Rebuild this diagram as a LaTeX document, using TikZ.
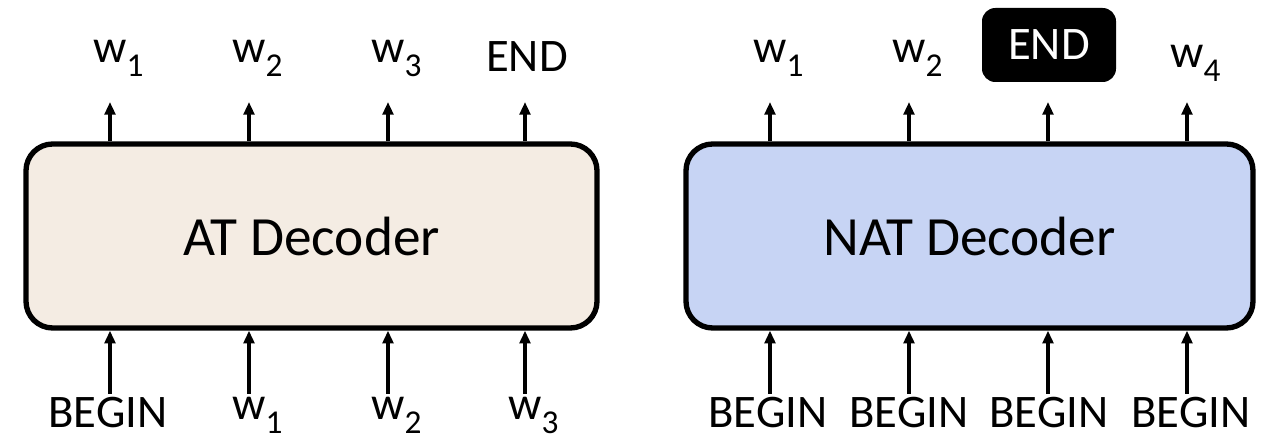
\documentclass[tikz,border=0pt]{standalone}
\usepackage{fontspec}
\setmainfont{Carlito}
\usetikzlibrary{arrows.meta}
\newcommand{\wsub}[1]{w\rlap{\raisebox{-0.3em}{\fontsize{25}{25}\selectfont #1}}}
\definecolor{atfill}{RGB}{244,236,227}
\definecolor{natfill}{RGB}{199,212,244}
\begin{document}
\begin{tikzpicture}[x=0.75pt,y=-0.75pt,
  dec/.style={draw=black, line width=4pt, rounded corners=20pt, inner sep=0pt,
    font=\fontsize{41.5}{41.5}\selectfont},
  lbl/.style={inner sep=0pt, font=\fontsize{35}{35}\selectfont, anchor=base},
  arr/.style={line width=2.4pt, -{Triangle[length=9.5pt,width=8pt]}},
  endbox/.style={fill=black, text=white, rounded corners=10pt, inner sep=0pt,
    minimum width=100.5pt, minimum height=55.5pt, font=\fontsize{35}{35}\selectfont}
]
\useasboundingbox (0,0) rectangle (1279,448);
% boxes
\node[dec, fill=atfill, minimum width=428.25pt, minimum height=138pt] (at) at (311.5,236) {AT Decoder};
\node[dec, fill=natfill, minimum width=425.25pt, minimum height=138pt] (nat) at (969.5,236) {NAT Decoder};
% AT outputs
\node[lbl] (ao1) at (110,63) {\wsub{1}};
\node[lbl] (ao2) at (249,63) {\wsub{2}};
\node[lbl] (ao3) at (388,63) {\wsub{3}};
\node[lbl] (ao4) at (527,72) {END};
\foreach \i/\x in {1/110,2/249,3/388,4/525}{
  \coordinate (at\i) at (\x,102);
  \draw[arr] (at.north -| at\i) -- (at\i);
}
% AT inputs
\node[lbl] (ai1) at (108,428) {BEGIN};
\node[lbl] (ai2) at (249,420) {\wsub{1}};
\node[lbl] (ai3) at (388,420) {\wsub{2}};
\node[lbl] (ai4) at (525,420) {\wsub{3}};
\foreach \i/\x in {1/110,2/249,3/388,4/525}{
  \coordinate (ab\i) at (\x,394);
  \draw[arr] (ab\i) -- (at.south -| ab\i);
}
% NAT outputs
\node[lbl] (no1) at (770,63) {\wsub{1}};
\node[lbl] (no2) at (909,63) {\wsub{2}};
\node[endbox] (no3) at (1049,45) {END};
\node[lbl] (no4) at (1187,68) {\wsub{4}};
\foreach \i/\x in {1/770,2/909,3/1048,4/1187}{
  \coordinate (nt\i) at (\x,102);
  \draw[arr] (nat.north -| nt\i) -- (nt\i);
}
% NAT inputs
\foreach \i/\x/\lx in {1/770/768,2/909/909,3/1048/1049,4/1187/1191}{
  \node[lbl] (ni\i) at (\lx,428) {BEGIN};
  \coordinate (nb\i) at (\x,394);
  \draw[arr] (nb\i) -- (nat.south -| nb\i);
}
\end{tikzpicture}
\end{document}
